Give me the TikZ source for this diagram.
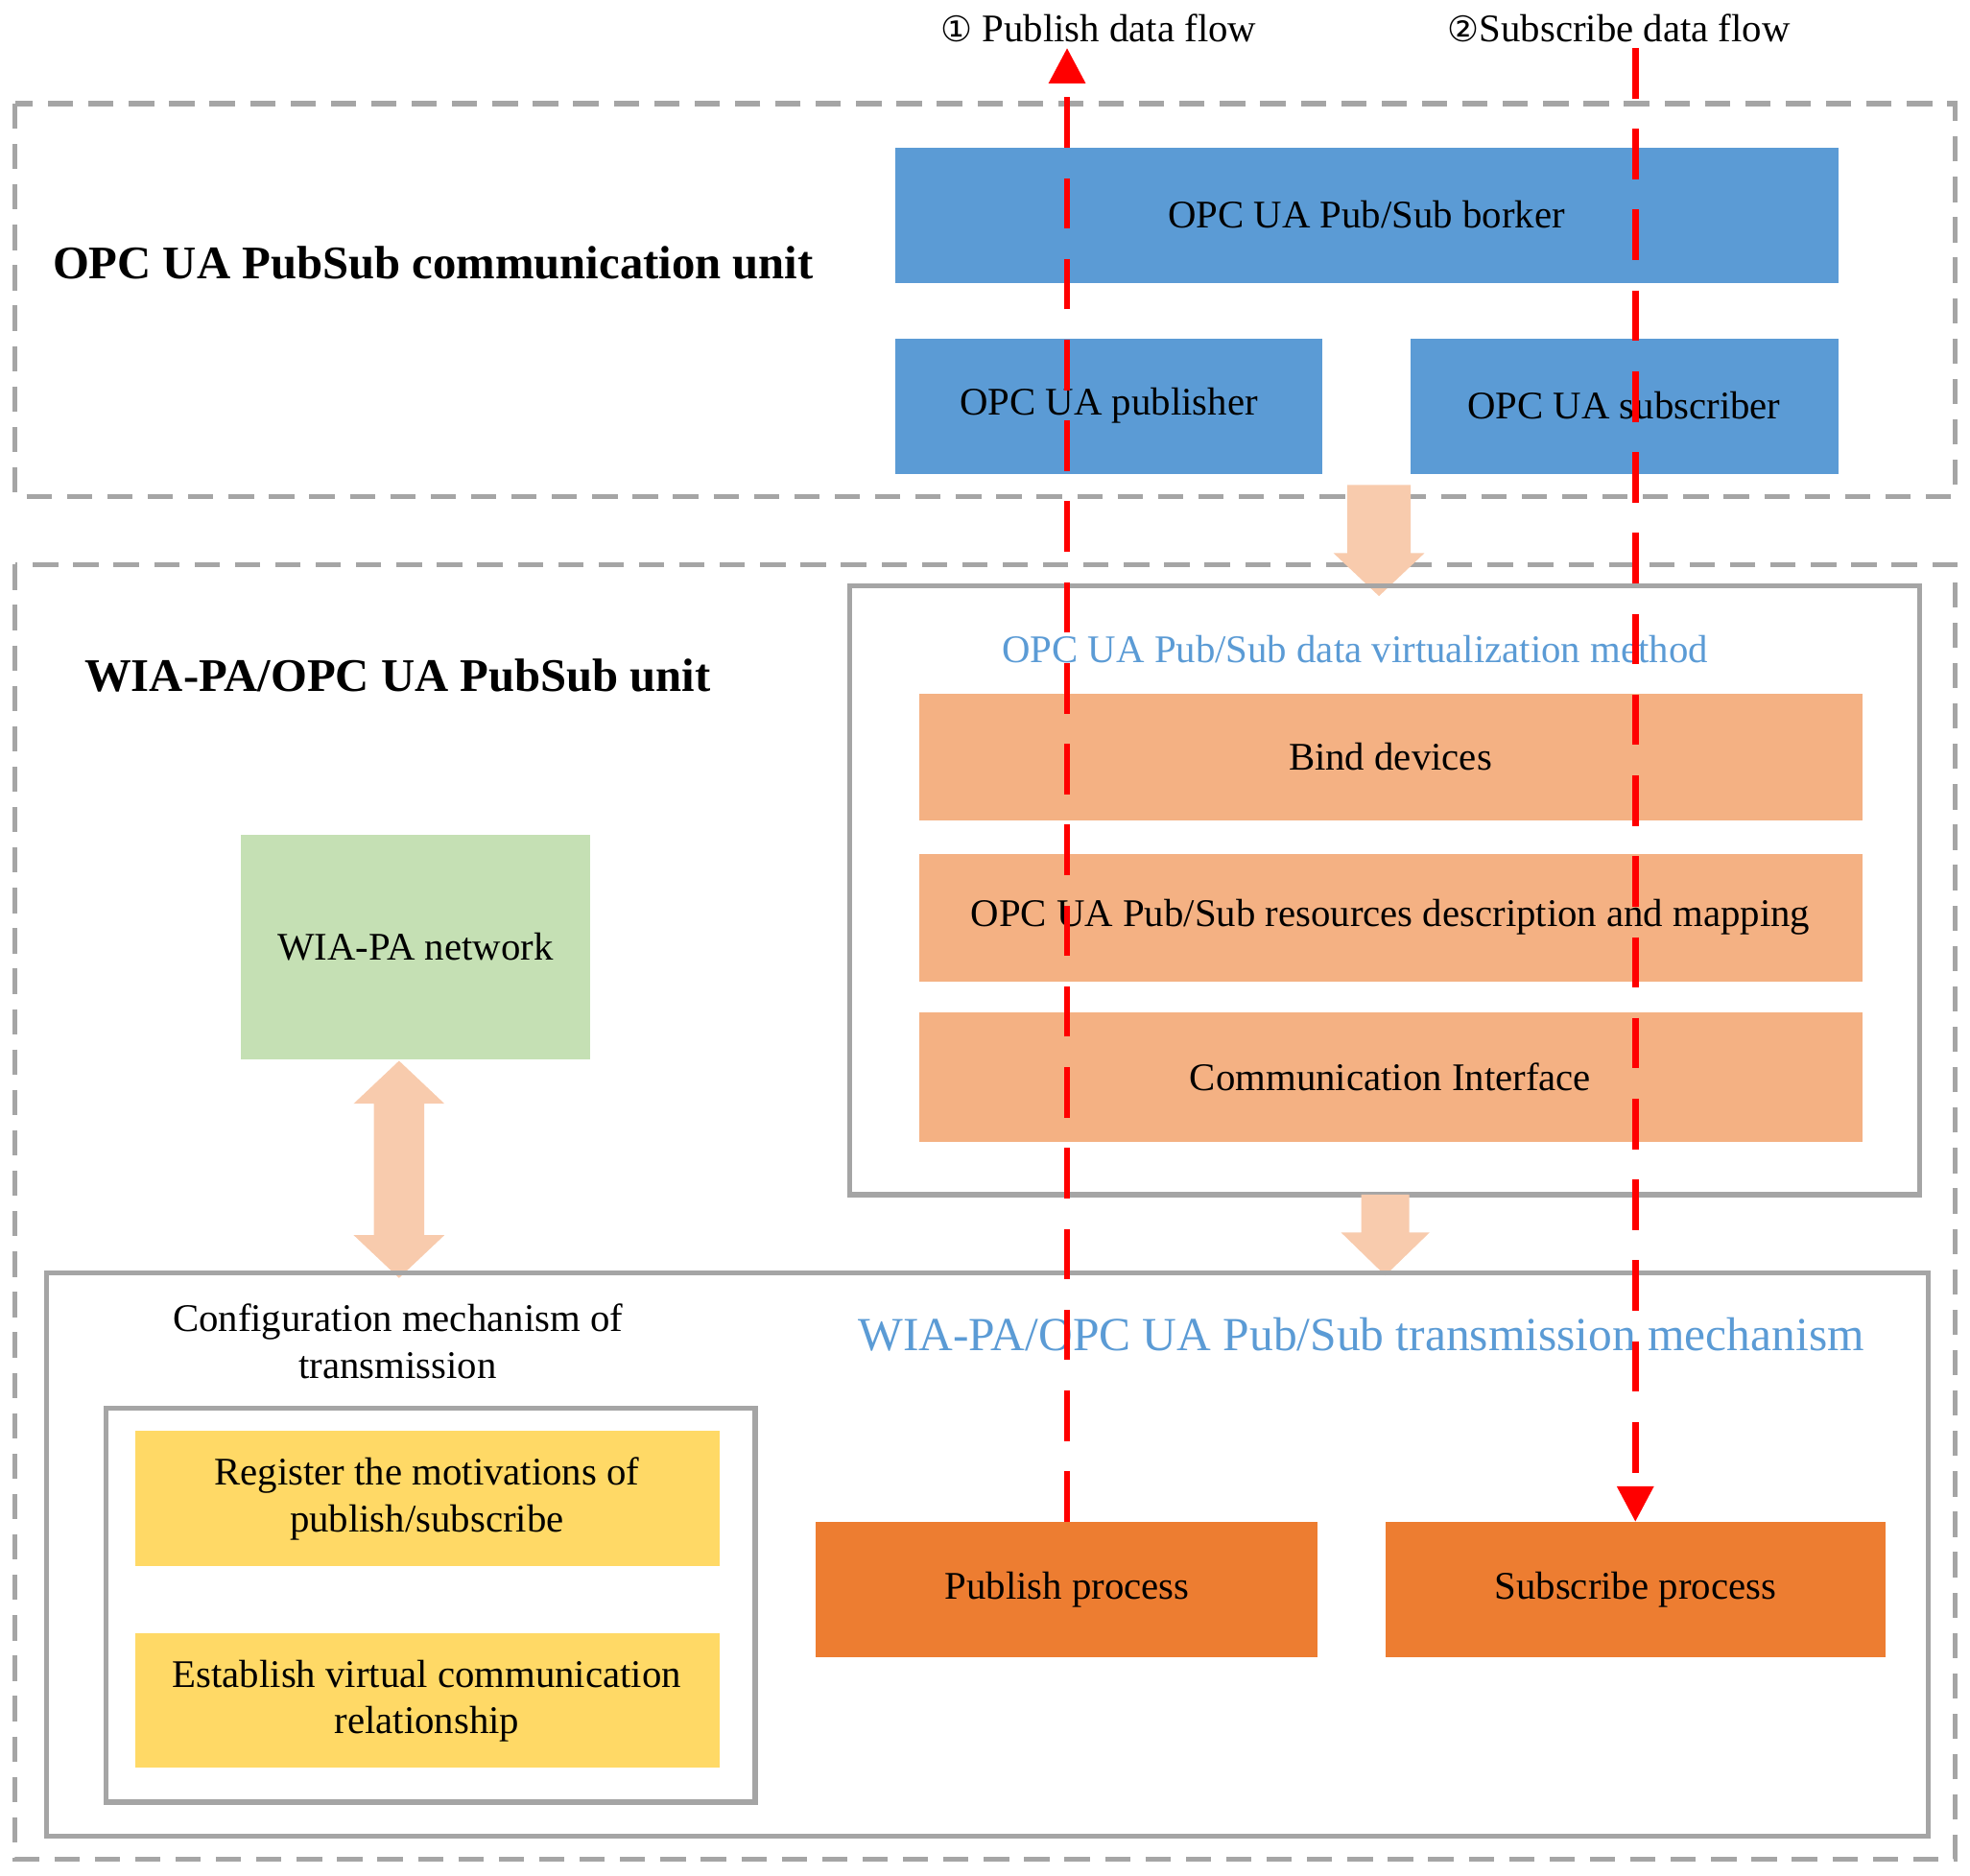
\documentclass[tikz,border=0pt]{standalone}
\usepackage{fontspec}
\setmainfont{Liberation Serif}
\newfontfamily\djv{DejaVu Sans}
\usetikzlibrary{arrows.meta}
\definecolor{blu}{HTML}{5B9BD5}
\definecolor{ora}{HTML}{F4B183}
\definecolor{dora}{HTML}{ED7D31}
\definecolor{grn}{HTML}{C5E0B4}
\definecolor{yel}{HTML}{FFD966}
\definecolor{pch}{HTML}{F8CBAD}
\definecolor{gry}{HTML}{A5A5A5}
\begin{document}
\begin{tikzpicture}[x=0.5pt,y=-0.5pt,
  dbox/.style={draw=gry,line width=2pt,dash pattern=on 10pt off 6pt},
  sbox/.style={draw=gry,line width=2pt},
  fbox/.style={font=\fontsize{15.5}{18.5}\selectfont,align=center},
  ttl/.style={font=\bfseries\fontsize{18.5}{21}\selectfont},
  flow/.style={draw=red,line width=2.6pt,dash pattern=on 20pt off 12pt,-{Triangle[length=14pt,width=14pt]}},
  fat/.style={fill=pch,draw=none}]
\useasboundingbox (0,0) rectangle (1560,1485);
\draw[dbox] (12,82) rectangle (1548,393);
\draw[dbox] (12,447) rectangle (1548,1472);
\node[ttl] (t1) at (343,208) {OPC UA PubSub communication unit};
\fill[blu] (709,117) rectangle (1456,224);
\node[fbox] (brk) at (1082,170) {OPC UA Pub/Sub borker};
\fill[blu] (709,268) rectangle (1047,375);
\node[fbox] (pub) at (878,321) {OPC UA publisher};
\fill[blu] (1117,268) rectangle (1456,375);
\node[fbox] (sub) at (1286,321) {OPC UA subscriber};
\fill[fat] (1067,384) -- (1117,384) -- (1117,438) -- (1128,438) -- (1092,472) -- (1056,438) -- (1067,438) -- cycle;
\node[ttl] (t2) at (315,535) {WIA-PA/OPC UA PubSub unit};
\draw[sbox] (673,464) rectangle (1520,946);
\node[fbox,text=blu] (vt) at (1073,514) {OPC UA Pub/Sub data virtualization method};
\fill[ora] (728,549) rectangle (1475,650);
\node[fbox] (b1) at (1101,599) {Bind devices};
\fill[ora] (728,676) rectangle (1475,777);
\node[fbox] (b2) at (1101,726) {OPC UA Pub/Sub resources description and mapping};
\fill[ora] (728,802) rectangle (1475,904);
\node[fbox] (b3) at (1101,853) {Communication Interface};
\fill[grn] (191,661) rectangle (467,839);
\node[fbox] (wia) at (329,750) {WIA-PA network};
\fill[fat] (316,840) -- (352,874) -- (336,874) -- (336,978) -- (352,978) -- (316,1012) -- (280,978) -- (296,978) -- (296,874) -- (280,874) -- cycle;
\fill[fat] (1078,946) -- (1116,946) -- (1116,976) -- (1132,976) -- (1097,1010) -- (1062,976) -- (1078,976) -- cycle;
\draw[sbox] (37,1008) rectangle (1527,1454);
\node[font=\fontsize{18.8}{21}\selectfont,text=blu] (tt) at (1078,1057) {WIA-PA/OPC UA Pub/Sub transmission mechanism};
\node[fbox] (cfg) at (315,1062) {Configuration mechanism of\\transmission};
\draw[sbox] (84,1115) rectangle (598,1427);
\fill[yel] (107,1133) rectangle (570,1240);
\node[fbox] (y1) at (338,1187) {Register the motivations of\\publish/subscribe};
\fill[yel] (107,1293) rectangle (570,1400);
\node[fbox] (y2) at (338,1347) {Establish virtual communication\\relationship};
\fill[dora] (646,1205) rectangle (1043,1312);
\node[fbox] (pp) at (845,1259) {Publish process};
\fill[dora] (1097,1205) rectangle (1493,1312);
\node[fbox] (sp) at (1295,1259) {Subscribe process};
\coordinate (ptop) at (845,38);
\coordinate (stop) at (1295,38);
\coordinate (pbot) at (845,1205);
\coordinate (sbot) at (1295,1205);
\draw[flow] (pbot) -- (ptop);
\draw[flow] (stop) -- (sbot);
\node[fbox] (l1) at (870,22) {{\djv\fontsize{14}{16}\selectfont ①} Publish data flow};
\node[fbox] (l2) at (1282,22) {{\djv\fontsize{14}{16}\selectfont ②}Subscribe data flow};
\end{tikzpicture}
\end{document}
